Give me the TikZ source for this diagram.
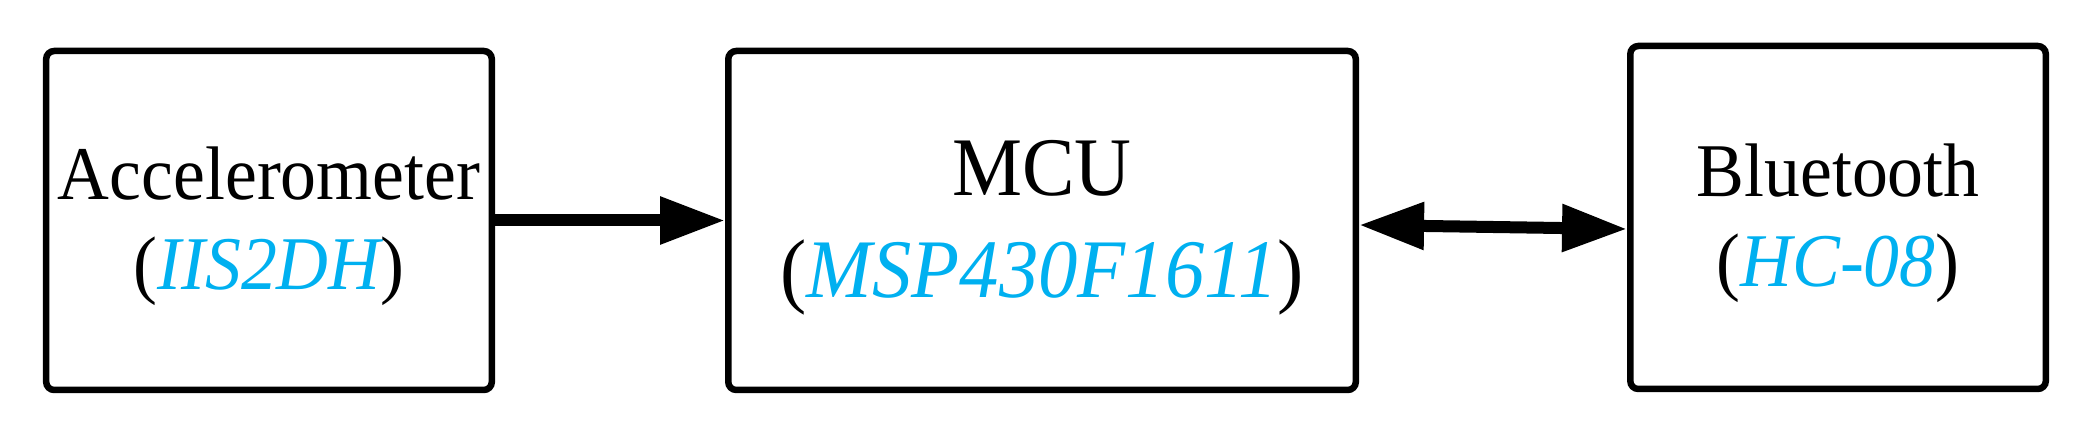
\documentclass[tikz,border=0pt]{standalone}
\usepackage{fontspec}
\setmainfont{Liberation Serif}[FakeStretch=0.945]
\usetikzlibrary{positioning, arrows.meta}
\definecolor{partblue}{RGB}{0,176,240}

\tikzset{
  block/.style={draw, line width=0.065cm, rounded corners=0.08cm, align=center,
    minimum height=3.39cm, text height=43.6pt, font=\fontsize{21.6pt}{25.6pt}\selectfont},
  link/.style={line width=0.12cm, -{Triangle[length=0.65cm,width=0.45cm]}},
}
\newcommand{\chipname}[1]{(\textcolor{partblue}{\itshape #1})}

\begin{document}
\begin{tikzpicture}
        \useasboundingbox (0,0) rectangle (20.92,4.33);

        \node[block, minimum width=4.415cm] (acc) at (2.69,2.125) {Accelerometer\\\chipname{IIS2DH}};
        \node[block, minimum width=6.275cm, right=2.3cm of acc, text height=49.1pt,
              font=\fontsize{23.7pt}{29pt}\selectfont] (mcu) {MCU\\\chipname{MSP430F1611}};
        \node[block, minimum width=4.155cm, minimum height=3.43cm,
              right=2.68cm of mcu, yshift=0.03cm] (bt) {Bluetooth\\\chipname{HC-08}};

        \draw[link] (acc) -- (mcu);
        \draw[link, {Triangle[length=0.65cm,width=0.45cm]}-{Triangle[length=0.65cm,width=0.45cm]}]
            ([yshift=-0.045cm]mcu.east) -- ([yshift=-0.115cm]bt.west);

    \end{tikzpicture}
\end{document}
